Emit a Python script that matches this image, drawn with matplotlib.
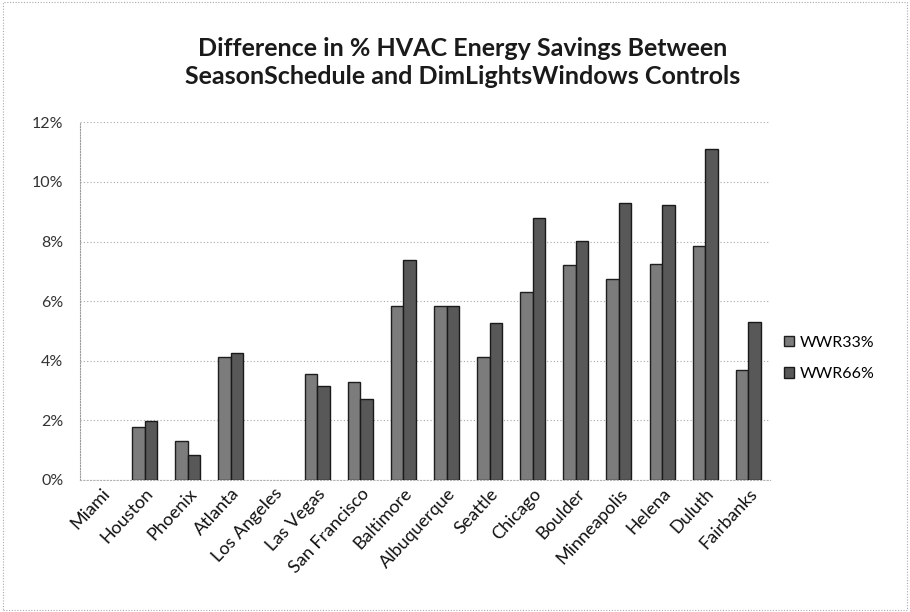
import matplotlib
matplotlib.use("Agg")
import matplotlib.pyplot as plt
import numpy as np
from matplotlib.patches import Rectangle

plt.rcParams.update({"font.family": ["Lato", "DejaVu Sans"], "font.size": 10})

CITIES = ["Miami", "Houston", "Phoenix", "Atlanta", "Los Angeles", "Las Vegas",
          "San Francisco", "Baltimore", "Albuquerque", "Seattle", "Chicago", "Boulder",
          "Minneapolis", "Helena", "Duluth", "Fairbanks"]
WWR33 = [0.0, 1.78, 1.30, 4.11, 0.0, 3.55, 3.29, 5.82, 5.82, 4.13, 6.31, 7.21, 6.73, 7.26, 7.86, 3.68]
WWR66 = [0.0, 1.97, 0.83, 4.25, 0.0, 3.15, 2.70, 7.39, 5.82, 5.27, 8.78, 8.02, 9.31, 9.22, 11.11, 5.29]
SERIES = ["WWR33%", "WWR66%"]
YTICKS = [0, 2, 4, 6, 8, 10, 12]

fig = plt.figure(figsize=(9.1, 6.12), dpi=100)
ax = fig.add_axes([0.088, 0.216, 0.758, 0.584])

x = np.arange(len(CITIES)) + 0.5
w = 0.29
ax.bar(x - w / 2, WWR33, w, color="#7c7c7c", edgecolor="#1e1e1e",
       linewidth=[1.0 if v > 0 else 0 for v in WWR33], label=SERIES[0], zorder=3)
ax.bar(x + w / 2, WWR66, w, color="#585858", edgecolor="#1a1a1a",
       linewidth=[1.0 if v > 0 else 0 for v in WWR66], label=SERIES[1], zorder=3)

ax.set_xlim(0, len(CITIES))
ax.set_ylim(0, 12)
ax.set_yticks(YTICKS)
ax.set_yticklabels([f"{v}%" for v in YTICKS], fontsize=11.5, color="#333333")
ax.set_xticks(x)
ax.set_xticklabels(CITIES, rotation=47, ha="right", rotation_mode="anchor",
                   fontsize=13, color="#111111")
ax.tick_params(axis="y", length=0, pad=12)
ax.tick_params(axis="x", length=0, pad=4)
ax.grid(axis="y", linestyle=(0, (1, 2)), color="#a8a8a8", linewidth=0.8, zorder=0)
for s in ["top", "right"]:
    ax.spines[s].set_visible(False)
ax.spines["left"].set_linestyle((0, (1, 1.5)))
ax.spines["left"].set_color("#999999")
ax.spines["bottom"].set_linestyle((0, (1, 2)))
ax.spines["bottom"].set_color("#b0b0b0")

fig.text(0.508, 0.898, "Difference in % HVAC Energy Savings Between\n"
         "SeasonSchedule and DimLightsWindows Controls",
         ha="center", va="center", fontsize=18, fontweight="bold",
         color="#1a1a1a", linespacing=1.25)

leg = ax.legend(loc="center left", bbox_to_anchor=(1.0, 0.34), frameon=False,
                fontsize=11.5, handlelength=0.6, handleheight=0.6, handletextpad=0.35,
                labelspacing=1.1)
for h in leg.legend_handles:
    h.set_linewidth(1.0)

# scanned page border
fig.add_artist(Rectangle((0.003, 0.003), 0.994, 0.994, transform=fig.transFigure,
                         fill=False, edgecolor="#aaaaaa", linewidth=0.8,
                         linestyle=(0, (1, 1.5))))

fig.savefig("out.png", dpi=100)
